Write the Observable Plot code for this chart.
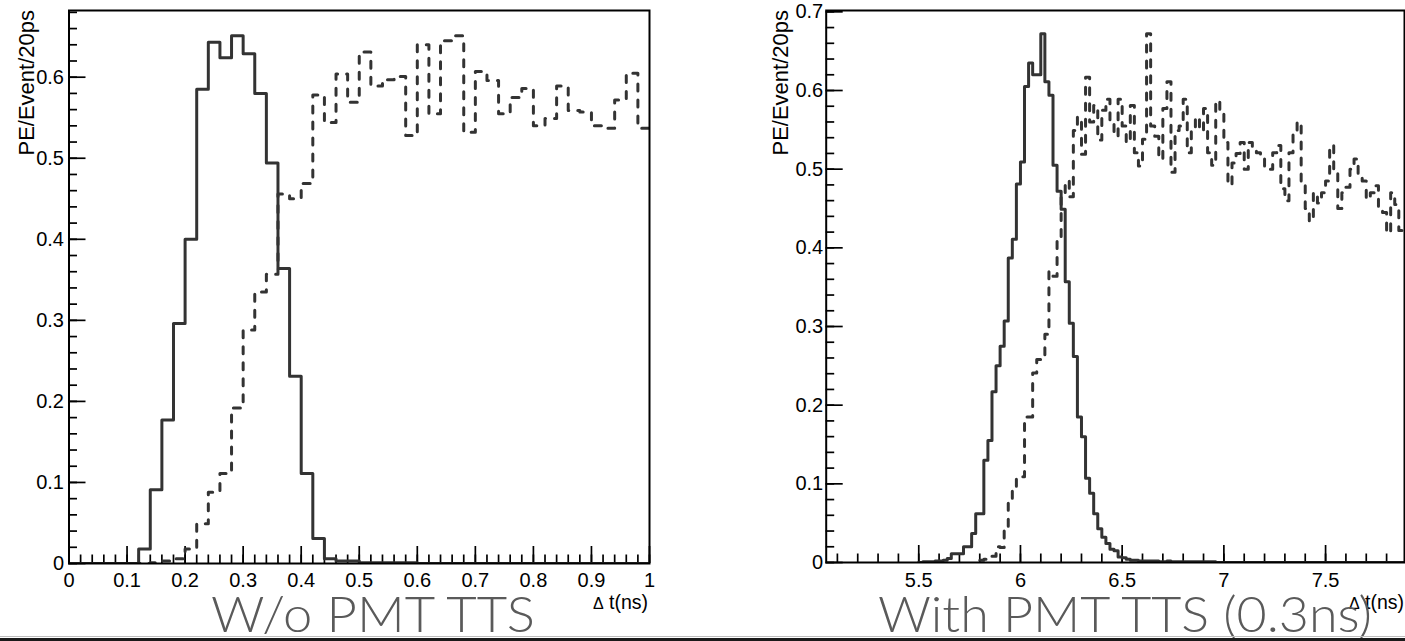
<!DOCTYPE html>
<html>
<head>
<meta charset="utf-8">
<script src="https://cdn.jsdelivr.net/npm/d3@7"></script>
<script src="https://cdn.jsdelivr.net/npm/@observablehq/plot@0.6"></script>
<style>
  html, body { margin: 0; padding: 0; background: #fff; }
  #root { position: relative; width: 1405px; height: 641px; overflow: hidden; }
  #left, #right { position: absolute; top: 0; }
  #left { left: 0; }
  #right { left: 700px; }
  #labels { position: absolute; left: 0; top: 0; pointer-events: none; }
</style>
</head>
<body>
<div id="root">
  <div id="left"></div>
  <div id="right"></div>
  <svg id="labels" width="1405" height="641" xmlns="http://www.w3.org/2000/svg"></svg>
</div>
<script>
// ---------- data (PE/Event per 20 ps bin) ----------
const binWidth = 0.02;

// Left panel: W/o PMT TTS, bins from 0 to 1 ns
const leftStart = 0;
const leftSolid = [
  0, 0, 0, 0, 0, 0, 0.018, 0.091, 0.177, 0.296,
  0.400, 0.585, 0.643, 0.624, 0.651, 0.629, 0.580, 0.494, 0.364, 0.231,
  0.111, 0.031, 0.006, 0.003, 0.003, 0.001, 0.001, 0.001, 0.001, 0.001,
  0, 0, 0, 0, 0, 0, 0, 0, 0, 0,
  0, 0, 0, 0, 0, 0, 0, 0, 0, 0
];
const leftDashed = [
  0, 0, 0, 0, 0, 0, 0, 0.001, 0.003, 0.006,
  0.018, 0.049, 0.088, 0.111, 0.192, 0.288, 0.335, 0.357, 0.456, 0.450,
  0.469, 0.578, 0.544, 0.604, 0.569, 0.631, 0.589, 0.597, 0.601, 0.528,
  0.640, 0.555, 0.645, 0.651, 0.532, 0.607, 0.596, 0.555, 0.575, 0.586,
  0.540, 0.549, 0.589, 0.559, 0.557, 0.540, 0.537, 0.572, 0.605, 0.537
];

// Right panel: With PMT TTS (0.3ns)
const rightSolidStart = 5.50;
const rightSolid = [
  0, 0.001, 0.001, 0.001, 0.002, 0.002, 0.003, 0.005, 0.011, 0.011,
  0.011, 0.020, 0.020, 0.037, 0.062, 0.062, 0.130, 0.155, 0.217, 0.250,
  0.275, 0.307, 0.387, 0.411, 0.481, 0.509, 0.605, 0.635, 0.620, 0.620,
  0.672, 0.611, 0.594, 0.505, 0.472, 0.449, 0.357, 0.304, 0.262, 0.185,
  0.160, 0.107, 0.088, 0.062, 0.043, 0.032, 0.024, 0.017, 0.015, 0.007,
  0.006, 0.004, 0.003, 0.003, 0.002, 0.002, 0.002, 0.002, 0.002, 0.001,
  0.001, 0.002, 0.001, 0.001, 0.001, 0.001, 0.001, 0.001, 0.001, 0.001,
  0.001, 0.001, 0.001, 0, 0, 0, 0, 0, 0, 0,
  0, 0, 0, 0, 0, 0, 0, 0, 0, 0,
  0, 0, 0, 0, 0, 0, 0, 0, 0, 0,
  0, 0, 0, 0, 0, 0, 0, 0, 0, 0,
  0, 0, 0, 0, 0, 0, 0, 0, 0, 0
];
const rightDashedStart = 5.80;
const rightDashed = [
  0.003, 0.004, 0.006, 0.008, 0.020, 0.019, 0.045, 0.079, 0.091, 0.109,
  0.109, 0.185, 0.185, 0.241, 0.258, 0.258, 0.290, 0.370, 0.364, 0.409,
  0.466, 0.485, 0.465, 0.549, 0.566, 0.519, 0.617, 0.560, 0.581, 0.537,
  0.575, 0.589, 0.560, 0.542, 0.589, 0.555, 0.534, 0.581, 0.521, 0.504,
  0.538, 0.672, 0.555, 0.542, 0.513, 0.577, 0.611, 0.496, 0.549, 0.555,
  0.589, 0.521, 0.549, 0.566, 0.549, 0.577, 0.521, 0.505, 0.587, 0.575,
  0.534, 0.480, 0.508, 0.520, 0.534, 0.500, 0.534, 0.525, 0.521, 0.513,
  0.500, 0.500, 0.521, 0.530, 0.475, 0.460, 0.521, 0.545, 0.560, 0.485,
  0.450, 0.434, 0.470, 0.457, 0.470, 0.485, 0.530, 0.500, 0.450, 0.470,
  0.477, 0.500, 0.513, 0.490, 0.485, 0.462, 0.470, 0.479, 0.450, 0.445,
  0.419, 0.470, 0.455, 0.422, 0.420
];

// Tick labels
const leftXTicks = [0, 0.1, 0.2, 0.3, 0.4, 0.5, 0.6, 0.7, 0.8, 0.9, 1];
const leftYTicks = [0, 0.1, 0.2, 0.3, 0.4, 0.5, 0.6];
const rightXTicks = [5.5, 6, 6.5, 7, 7.5];
const rightYTicks = [0, 0.1, 0.2, 0.3, 0.4, 0.5, 0.6, 0.7];

// Axis ranges
const leftXDomain = [0, 1];
const leftYDomain = [0, 0.6823];
const rightXDomain = [5.045, 7.888];
const rightYDomain = [0, 0.7017];

// Texts
const yTitle = "PE/Event/20ps";
const xTitleSym = "\u0394";
const xTitleRest = " t(ns)";
const leftCaption = "W/o PMT TTS";
const rightCaption = "With PMT TTS (0.3ns)";

// ---------- helpers ----------
function steps(start, values) {
  const pts = values.map((v, i) => ({x: start + i * binWidth, y: v}));
  pts.push({x: start + values.length * binWidth, y: values[values.length - 1]});
  return pts;
}

const FONT = "'Liberation Sans', Arial, Helvetica, sans-serif";
const LINE = "#333333";

function panel(o) {
  const H = 641, mTop = 10;
  const innerW = o.width - o.marginLeft - o.marginRight;
  const innerH = H - mTop - o.marginBottom;
  return Plot.plot({
    width: o.width,
    height: H,
    marginLeft: o.marginLeft,
    marginRight: o.marginRight,
    marginTop: mTop,
    marginBottom: o.marginBottom,
    x: {domain: o.xDomain, label: null},
    y: {domain: o.yDomain, label: null},
    style: {fontFamily: FONT, background: "transparent", overflow: "visible", color: "#000"},
    marks: [
      Plot.tickX(o.xMinor, {x: d => d, insetTop: innerH - 8.5, stroke: "#000", strokeWidth: 1.7}),
      Plot.tickX(o.xTicks, {x: d => d, insetTop: innerH - 17, stroke: "#000", strokeWidth: 1.7}),
      Plot.tickY(o.yMinor, {y: d => d, insetRight: innerW - 8.5, stroke: "#000", strokeWidth: 1.7}),
      Plot.tickY(o.yTicks, {y: d => d, insetRight: innerW - 17, stroke: "#000", strokeWidth: 1.7}),
      Plot.line(o.solid, {x: "x", y: "y", curve: "step-after", stroke: LINE, strokeWidth: 3, clip: true}),
      Plot.line(o.dashed, {x: "x", y: "y", curve: "step-after", stroke: LINE, strokeWidth: 3, strokeDasharray: "7,9", clip: true}),
      Plot.frame({stroke: "#000", strokeWidth: 2}),
      Plot.axisX(o.xTicks, {tickSize: 0, tickPadding: o.xPad, fontSize: o.fontSize, label: null, tickFormat: d => String(d)}),
      Plot.axisY(o.yTicks, {tickSize: 0, tickPadding: o.yPad, fontSize: o.fontSize, label: null, tickFormat: d => String(d)})
    ]
  });
}

const leftPlot = panel({
  width: 700, marginLeft: 68.5, marginRight: 51, marginBottom: 78,
  xDomain: leftXDomain, yDomain: leftYDomain,
  xTicks: leftXTicks, xMinor: d3.range(0, 51).map(i => i * 0.02),
  yTicks: leftYTicks, yMinor: d3.range(0, 35).map(i => i * 0.02),
  solid: steps(leftStart, leftSolid), dashed: steps(leftStart, leftDashed),
  fontSize: 20, xPad: 9, yPad: 5
});
document.getElementById("left").appendChild(leftPlot);

const rightPlot = panel({
  width: 705, marginLeft: 125.7, marginRight: 1, marginBottom: 79,
  xDomain: rightXDomain, yDomain: rightYDomain,
  xTicks: rightXTicks, xMinor: d3.range(51, 79).map(i => i * 0.1),
  yTicks: rightYTicks, yMinor: d3.range(0, 36).map(i => i * 0.02),
  solid: steps(rightSolidStart, rightSolid), dashed: steps(rightDashedStart, rightDashed),
  fontSize: 20, xPad: 10, yPad: 3
});
document.getElementById("right").appendChild(rightPlot);

// ---------- extra texts ----------
const svg = d3.select("#labels");
function yTitleText(x) {
  svg.append("text")
    .attr("transform", `translate(${x},10) rotate(-90)`)
    .attr("text-anchor", "end")
    .attr("font-family", FONT)
    .attr("font-size", 22)
    .attr("fill", "#000")
    .text(yTitle);
}
yTitleText(33.5);
yTitleText(788);

function xTitleText(x) {
  const t = svg.append("text")
    .attr("x", x).attr("y", 609)
    .attr("text-anchor", "end")
    .attr("font-family", FONT)
    .attr("fill", "#000");
  t.append("tspan").attr("font-size", 16).text(xTitleSym);
  t.append("tspan").attr("font-size", 19.5).text(xTitleRest);
}
xTitleText(648);
xTitleText(1404);

function caption(x, len, s) {
  svg.append("text")
    .attr("x", x).attr("y", 632)
    .attr("font-family", "Lato, 'Open Sans', sans-serif")
    .attr("font-weight", 300)
    .attr("font-size", 49)
    .attr("fill", "#5a5a5a")
    .attr("textLength", len)
    .attr("lengthAdjust", "spacingAndGlyphs")
    .text(s);
}
caption(211, 324, leftCaption);
caption(878, 494, rightCaption);

// bottom rule
svg.append("line").attr("x1", 0).attr("x2", 1405).attr("y1", 636.5).attr("y2", 636.5)
  .attr("stroke", "#bdbdbd").attr("stroke-width", 1);
svg.append("rect").attr("x", 0).attr("y", 638).attr("width", 1405).attr("height", 3).attr("fill", "#1a1a1a");
</script>
</body>
</html>
